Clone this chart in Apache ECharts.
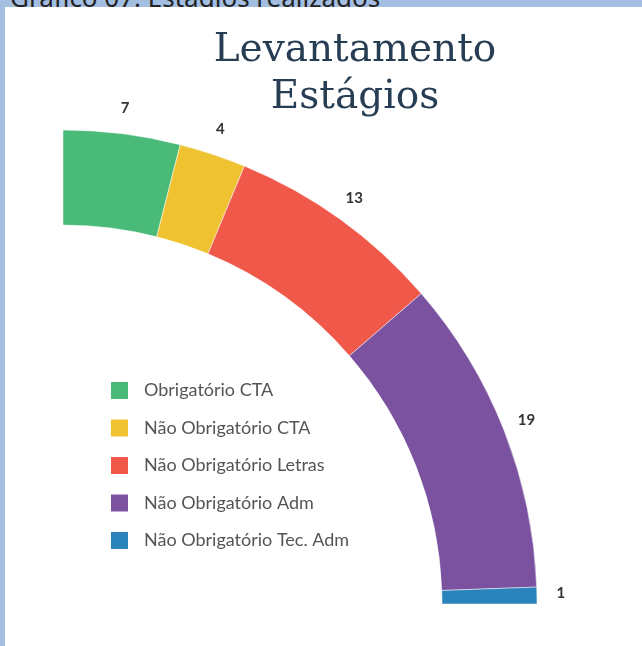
<!DOCTYPE html>
<html>
<head>
<meta charset="utf-8">
<script src="https://cdn.jsdelivr.net/npm/echarts@6/dist/echarts.min.js"></script>
<style>
html,body{margin:0;padding:0;background:#a4bee2;overflow:hidden;}
#wrap{position:relative;width:642px;height:646px;background:#a4bee2;overflow:hidden;}
#caption{position:absolute;left:10px;top:-16px;font:26px/26px "Noto Sans";color:#222;white-space:nowrap;z-index:1;}
#chart{position:absolute;left:5px;top:7px;width:637px;height:639px;background:#fff;z-index:2;}
</style>
</head>
<body>
<div id="wrap">
<div id="caption">Gráfico 07: Estágios realizados</div>
<div id="chart"></div>
</div>
<script>
const categories = ['Obrigatório CTA', 'Não Obrigatório CTA', 'Não Obrigatório Letras', 'Não Obrigatório Adm', 'Não Obrigatório Tec. Adm'];
const values = [7, 4, 13, 19, 1];
const colors = ['#4aba78', '#efc231', '#f0584a', '#7a52a0', '#2a83bb'];
const titleText = 'Levantamento\nEstágios';

const data = categories.map((c, i) => ({ name: c, value: values[i], itemStyle: { color: colors[i] } }));
const labelData = categories.map((c, i) => ({ name: c, value: values[i] }));

const chart = echarts.init(document.getElementById('chart'), null, { renderer: 'canvas' });
chart.setOption({
  backgroundColor: '#ffffff',
  animation: false,
  title: {
    text: titleText,
    left: 345,
    top: 15,
    textAlign: 'center',
    textStyle: { fontFamily: 'DejaVu Serif', fontSize: 39, fontWeight: 'normal', color: '#263d53', lineHeight: 47 }
  },
  legend: {
    orient: 'vertical',
    left: 99,
    top: 368,
    data: categories,
    icon: 'rect',
    itemWidth: 19,
    itemHeight: 19,
    itemGap: 16.5,
    selectedMode: false,
    textStyle: { fontFamily: 'Lato', fontSize: 18, color: '#555', padding: [0, 0, 0, 10] }
  },
  series: [
    {
      type: 'pie',
      center: [58, 597],
      radius: [379, 474],
      startAngle: 90,
      endAngle: 0,
      clockwise: true,
      silent: true,
      label: { show: false },
      labelLine: { show: false },
      itemStyle: { borderColor: '#ffffff', borderWidth: 0.5 },
      data: data
    },
    {
      type: 'pie',
      center: [58, 595],
      radius: [486, 504],
      startAngle: 90,
      endAngle: 0,
      clockwise: true,
      silent: true,
      itemStyle: { color: 'rgba(0,0,0,0)' },
      label: { show: true, position: 'inside', formatter: '{c}', fontFamily: 'Lato', fontSize: 15, fontWeight: 'bold', color: '#333' },
      labelLine: { show: false },
      data: labelData
    }
  ]
});
</script>
</body>
</html>
